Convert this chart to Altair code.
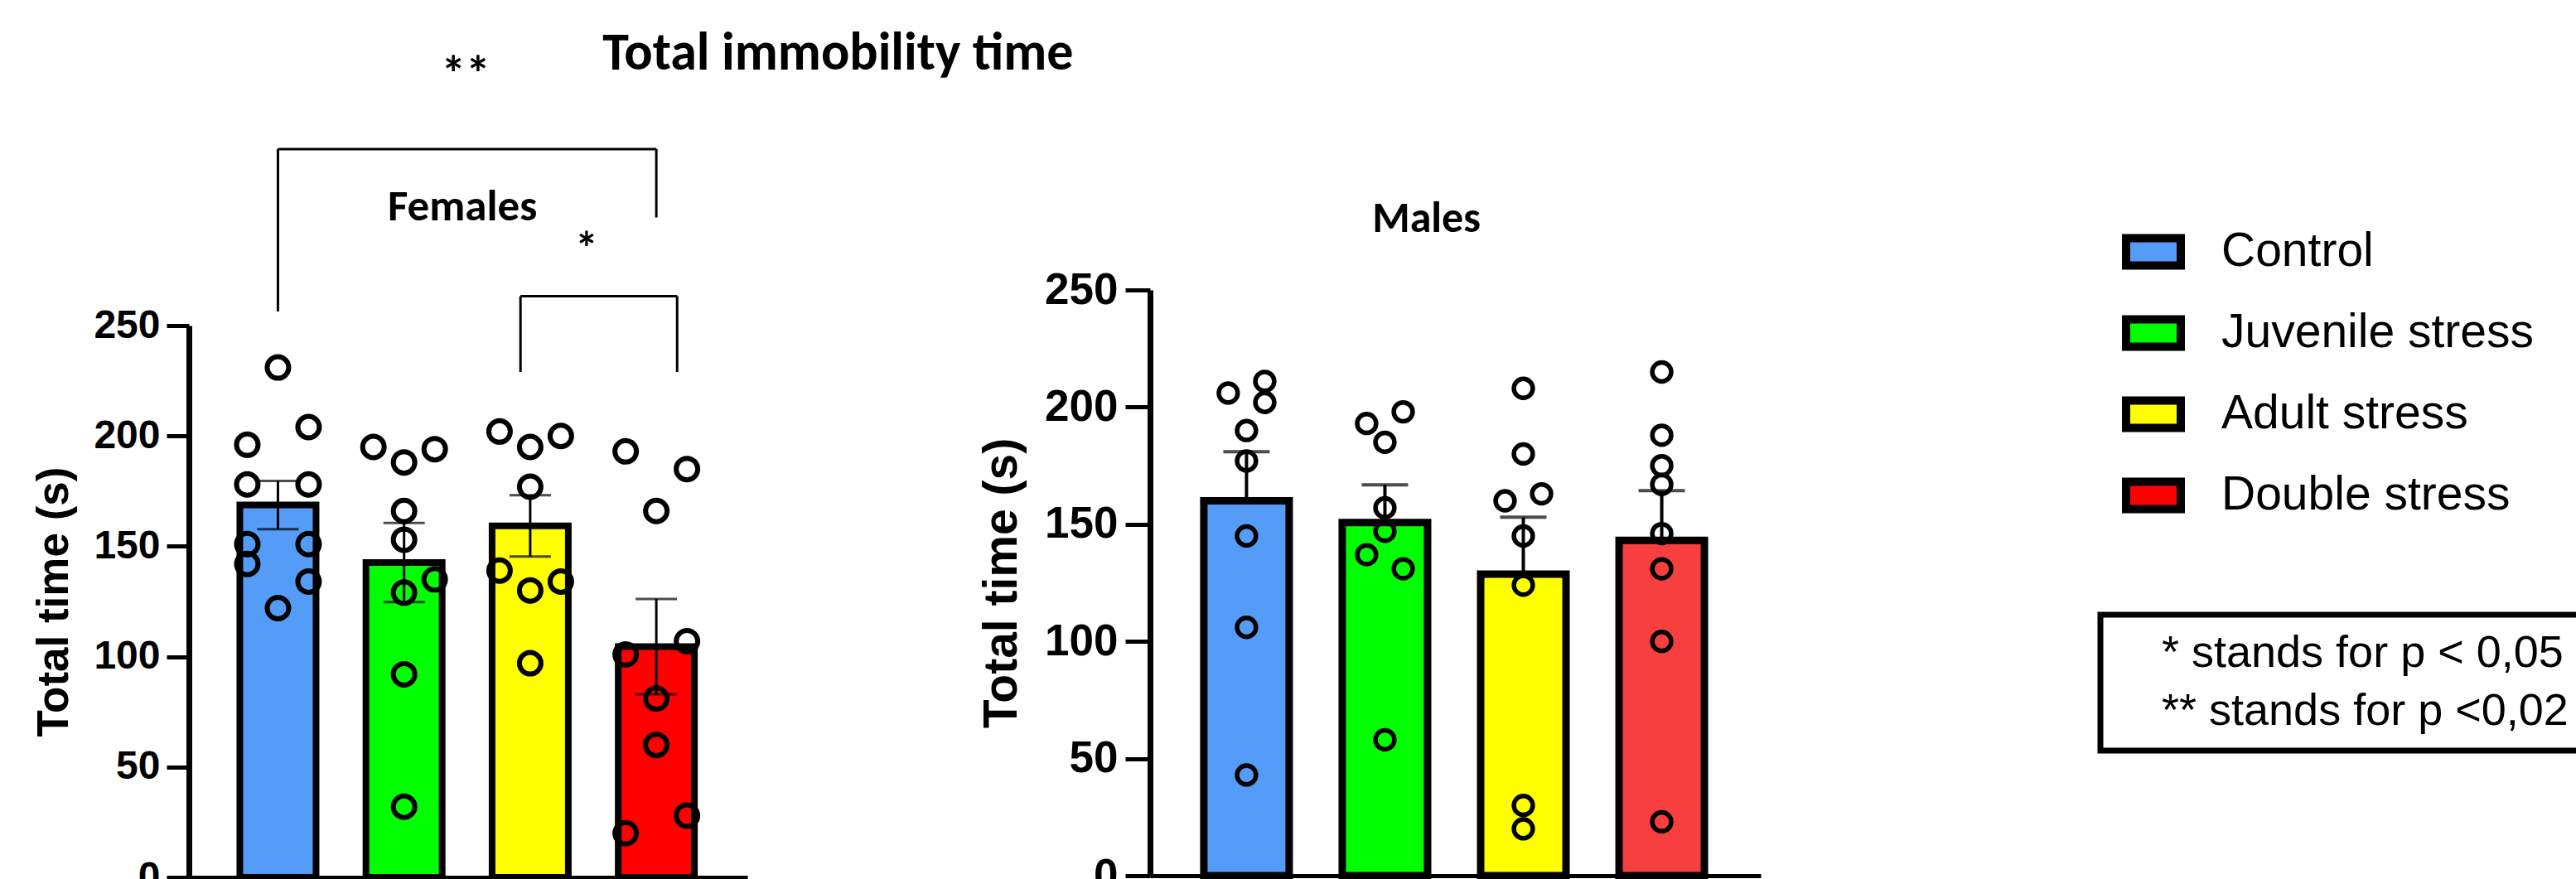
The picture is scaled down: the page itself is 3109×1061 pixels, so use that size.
import altair as alt
import pandas as pd

# ---------------- data ----------------
groups = ["Control", "Juvenile stress", "Adult stress", "Double stress"]
female_colors = ["#559CF9", "#00FF00", "#FFFF00", "#FF0000"]
male_colors = ["#559CF9", "#00FF00", "#FFFF00", "#F83F3F"]

# Females: individual values (s) and their column within the bar (-1 left, 0 centre, 1 right)
fem_control = [231, 204, 196, 178, 178, 151, 151, 142, 134, 122]
fem_control_side = [0, 1, -1, -1, 1, -1, 1, -1, 1, 0]
fem_juvenile = [195, 188, 194, 166, 153, 135, 129, 92, 32]
fem_juvenile_side = [-1, 0, 1, 0, 0, 1, 0, 0, 0]
fem_adult = [202, 195, 200, 177, 139, 130, 134, 97]
fem_adult_side = [-1, 0, 1, 0, -1, 0, 1, 0]
fem_double = [193, 185, 166, 107, 101, 81, 60, 28, 20]
fem_double_side = [-1, 1, 0, 1, -1, 0, 0, 1, -1]

# Males
male_control = [206, 211, 202, 190, 177, 145, 106, 43]
male_control_side = [-1, 1, 1, 0, 0, 0, 0, 0]
male_juvenile = [193, 198, 185, 157, 147, 137, 131, 58]
male_juvenile_side = [-1, 1, 0, 0, 0, -1, 1, 0]
male_adult = [208, 180, 160, 163, 145, 124, 30, 20]
male_adult_side = [0, 0, -1, 1, 0, 0, 0, 0]
male_double = [215, 188, 175, 167, 146, 131, 100, 23]
male_double_side = [0, 0, 0, 0, 0, 0, 0, 0]

y_ticks = [0, 50, 100, 150, 200, 250]

# significance brackets (females panel, data units)
bracket_x1 = [0.0, 1.923]
bracket_x2 = [3.0, 3.165]
bracket_top = [330.0, 263.3]
bracket_left_end = [256.4, 229.0]
bracket_right_end = [299.0, 229.0]

notes = ["* stands for p < 0,05", "** stands for p <0,02"]


def build(values, sides):
    rows = []
    for i, g in enumerate(groups):
        for v, s in zip(values[i], sides[i]):
            rows.append({"grp": g, "idx": i, "value": v, "side": s})
    return pd.DataFrame(rows)


fem_df = build([fem_control, fem_juvenile, fem_adult, fem_double],
               [fem_control_side, fem_juvenile_side, fem_adult_side, fem_double_side])
male_df = build([male_control, male_juvenile, male_adult, male_double],
                [male_control_side, male_juvenile_side, male_adult_side, male_double_side])

seg_rows = []
for a, b, t, l, r in zip(bracket_x1, bracket_x2, bracket_top, bracket_left_end, bracket_right_end):
    seg_rows.append({"x": a, "x2": b, "y": t, "y2": t})
    seg_rows.append({"x": a, "x2": a, "y": t, "y2": l})
    seg_rows.append({"x": b, "x2": b, "y": t, "y2": r})
seg_df = pd.DataFrame(seg_rows)

CAL = "Calibri, Carlito, Lato"
ARIAL = "Liberation Sans"


def panel(df, xscale, yscale, xaxis, yaxis, colors, legend, bar_size, bar_stroke,
          err_w, cap, lower, pt_size, pt_stroke, spread):
    def X(f):
        return alt.X(f, type="quantitative", scale=xscale, axis=xaxis)

    def Y(f):
        return alt.Y(f, type="quantitative", scale=yscale, axis=yaxis)

    base = alt.Chart(df)
    agg = base.transform_aggregate(
        mean="mean(value)", sem="stderr(value)", groupby=["grp", "idx"]
    ).transform_calculate(hi="datum.mean + datum.sem", lo="datum.mean - datum.sem")

    bars = agg.mark_bar(size=bar_size, stroke="black", strokeWidth=bar_stroke,
                        orient="vertical").encode(
        x=X("idx"), y=Y("mean"), y2=alt.datum(0),
        fill=alt.Fill("grp:N", scale=alt.Scale(domain=groups, range=colors), legend=legend),
    )
    err = agg.mark_rule(color="black", strokeWidth=err_w).encode(
        x=X("idx"), y=Y("lo" if lower else "mean"), y2=alt.Y2("hi:Q"))
    caps = [agg.mark_tick(orient="horizontal", size=cap, thickness=err_w, color="black").encode(
        x=X("idx"), y=Y("hi"))]
    if lower:
        caps.append(agg.mark_tick(orient="horizontal", size=cap, thickness=err_w,
                                  color="black").encode(x=X("idx"), y=Y("lo")))
    pts = base.transform_calculate(xpos=f"datum.idx + datum.side * {spread}").mark_point(
        shape="circle", filled=False, color="black", strokeWidth=pt_stroke, size=pt_size,
        opacity=1).encode(x=X("xpos"), y=Y("value"))
    return [bars, err] + caps + [pts], X, Y


# ---------------- Females panel ----------------
fx = alt.Scale(domain=[-0.673, 3.689], range=[228, 902], nice=False, zero=False)
fy = alt.Scale(domain=[0, 250], range=[1059, 393], nice=False, zero=False)
fx_axis = alt.Axis(orient="bottom", values=[0, 1, 2, 3], labels=False, title=None, grid=False,
                   tickSize=20, tickWidth=5, tickColor="black", domainColor="black",
                   domainWidth=5, offset=-2)
fy_axis = alt.Axis(orient="left", values=y_ticks, offset=-228, grid=False,
                   tickSize=27, tickWidth=5, tickColor="black", domainColor="black",
                   domainWidth=7, labelFont=ARIAL, labelFontWeight="bold", labelFontSize=48,
                   labelColor="black", labelPadding=8, title="Total time (s)",
                   titleFont=ARIAL, titleFontWeight="bold", titleFontSize=53,
                   titleColor="black", titlePadding=20)

color_legend = alt.Legend(title=None, orient="none", legendX=2561, legendY=266, padding=0,
                          symbolType="M-1,-0.5H1V0.5H-1Z", symbolSize=4356,
                          symbolStrokeColor="black", symbolStrokeWidth=10, symbolOpacity=1,
                          labelFont=ARIAL, labelFontSize=57, labelColor="black",
                          labelOffset=44, labelLimit=1000, rowPadding=23)

fem_layers, FX, FY = panel(fem_df, fx, fy, fx_axis, fy_axis, female_colors, color_legend,
                           92, 8, 3, 50, True, 676, 6, 0.243)

brackets = alt.Chart(seg_df).mark_rule(color="black", strokeWidth=3).encode(
    x=FX("x"), x2=alt.X2("x2:Q"), y=FY("y"), y2=alt.Y2("y2:Q"))


def text_layer(label, x, y, size, X, Y):
    d = pd.DataFrame({"label": [label], "x": [x], "y": [y]})
    return alt.Chart(d).mark_text(font=CAL, fontWeight="bold", fontSize=size, color="black",
                                  align="center", baseline="middle").encode(
        x=X("x"), y=Y("y"), text="label:N")


fem_texts = [
    text_layer("Total immobility time", 4.44, 373.1, 64, FX, FY),
    text_layer("**", 1.489, 363.0, 60, FX, FY),
    text_layer("*", 2.447, 284.0, 56, FX, FY),
    text_layer("Females", 1.463, 303.7, 53, FX, FY),
]

females = alt.layer(*fem_layers, brackets, *fem_texts)

# ---------------- Males panel ----------------
mx = alt.Scale(domain=[-0.667, 3.685], range=[1388, 2125], nice=False, zero=False)
my = alt.Scale(domain=[0, 250], range=[1057, 350], nice=False, zero=False)
mx_axis = alt.Axis(orient="bottom", values=[0, 1, 2, 3], labels=False, title=None, grid=False,
                   tickSize=20, tickWidth=5, tickColor="black", domainColor="black",
                   domainWidth=5, offset=-4)
my_axis = alt.Axis(orient="left", values=y_ticks, offset=-1388, grid=False,
                   tickSize=30, tickWidth=5, tickColor="black", domainColor="black",
                   domainWidth=7, labelFont=ARIAL, labelFontWeight="bold", labelFontSize=53,
                   labelColor="black", labelPadding=9, title="Total time (s)",
                   titleFont=ARIAL, titleFontWeight="bold", titleFontSize=57,
                   titleColor="black", titlePadding=22)

male_layers, MX, MY = panel(male_df, mx, my, mx_axis, my_axis, male_colors, None,
                            103, 9, 4, 56, False, 520, 5.5, 0.132)
males = alt.layer(*male_layers, text_layer("Males", 1.30, 280.4, 52, MX, MY))

# ---------------- significance note (drawn as a bordered legend) ----------------
note_legend = alt.Legend(title=None, orient="none", legendX=2535, legendY=742, padding=20,
                         strokeColor="black", symbolSize=1, symbolOpacity=0,
                         symbolStrokeWidth=0, symbolType="circle", labelFont=ARIAL,
                         labelFontSize=54, labelColor="black", labelOffset=0,
                         labelAlign="left", labelLimit=1000, rowPadding=16)
note = alt.Chart(pd.DataFrame({"note": notes})).mark_point(size=0, opacity=0).encode(
    shape=alt.Shape("note:N", scale=alt.Scale(domain=notes), legend=note_legend))

chart = alt.layer(females, males, note).resolve_scale(
    x="independent", y="independent", fill="independent"
).properties(
    width=3109, height=1061, padding=0,
    autosize=alt.AutoSizeParams(type="none"),
).configure_view(stroke=None).configure_legend(strokeWidth=7, labelFont=ARIAL)

chart.save("out.html", embed_options={"renderer": "svg", "actions": False})
